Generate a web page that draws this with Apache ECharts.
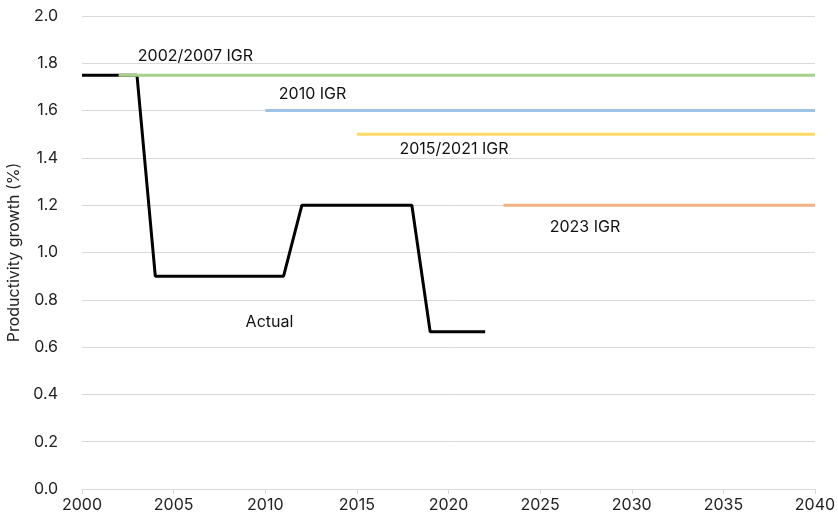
<!DOCTYPE html>
<html>
<head>
<meta charset="utf-8">
<script src="https://cdn.jsdelivr.net/npm/echarts@6/dist/echarts.min.js"></script>
<style>
  html, body { margin: 0; padding: 0; background: #fff; }
  #chart { width: 838px; height: 520px; }
</style>
</head>
<body>
<div id="chart"></div>
<script>
// actual productivity growth (step-like path)
const actualYears = [2000, 2003, 2004, 2011, 2012, 2018, 2019, 2022]
const actualValues = [1.75, 1.75, 0.9, 0.9, 1.2, 1.2, 0.665, 0.665]

// IGR assumptions: start year, end year, value
const igrNames = ['2002/2007 IGR', '2010 IGR', '2015/2021 IGR', '2023 IGR']
const igrStart = [2002, 2010, 2015, 2023]
const igrEnd = [2040, 2040, 2040, 2040]
const igrValues = [1.75, 1.6, 1.5, 1.2]
const igrColors = ['#A9D18E', '#9DC3E6', '#FFD966', '#F4B183']
// where each label sits (data coords)
const labelX = [2006.19, 2012.58, 2020.3, 2027.45]
const labelY = [1.832, 1.67, 1.438, 1.108]

const chart = echarts.init(document.getElementById('chart'))
const font = 'Inter, "Open Sans", sans-serif'

const series = igrNames.map((name, i) => ({
  name: name,
  type: 'line',
  data: [[igrStart[i], igrValues[i]], [igrEnd[i], igrValues[i]]],
  symbol: 'none',
  lineStyle: { color: igrColors[i], width: 3 },
  z: 2,
  markPoint: {
    symbol: 'circle',
    symbolSize: 0,
    data: [{
      coord: [labelX[i], labelY[i]],
      label: { show: true, formatter: name, color: '#111', fontSize: 16, fontFamily: font, position: 'inside' }
    }]
  }
}))

series.push({
  name: 'Actual',
  type: 'line',
  data: actualYears.map((y, i) => [y, actualValues[i]]),
  symbol: 'none',
  lineStyle: { color: '#000', width: 3 },
  z: 1,
  markPoint: {
    symbol: 'circle',
    symbolSize: 0,
    data: [{
      coord: [2010.23, 0.706],
      label: { show: true, formatter: 'Actual', color: '#111', fontSize: 16, fontFamily: font, position: 'inside' }
    }]
  }
})

chart.setOption({
  animation: false,
  grid: { left: 82, right: 23, top: 16, bottom: 31, containLabel: false, outerBoundsMode: 'none' },
  xAxis: {
    type: 'value',
    min: 2000,
    max: 2040,
    interval: 5,
    axisLine: { show: true, lineStyle: { color: '#d9d9d9', width: 1 } },
    axisTick: { show: true, length: 5, lineStyle: { color: '#d9d9d9' } },
    splitLine: { show: false },
    axisLabel: { color: '#222', fontSize: 16, fontFamily: font, margin: 8, formatter: v => String(v) }
  },
  yAxis: {
    type: 'value',
    min: 0,
    max: 2,
    interval: 0.2,
    name: 'Productivity growth (%)',
    nameLocation: 'middle',
    nameGap: 58,
    nameTextStyle: { color: '#222', fontSize: 16, fontFamily: font },
    axisLine: { show: false },
    axisTick: { show: false },
    splitLine: { lineStyle: { color: '#d9d9d9', width: 1 } },
    axisLabel: { color: '#222', fontSize: 16, fontFamily: font, margin: 24, formatter: v => v.toFixed(1) }
  },
  series: series
})
</script>
</body>
</html>
